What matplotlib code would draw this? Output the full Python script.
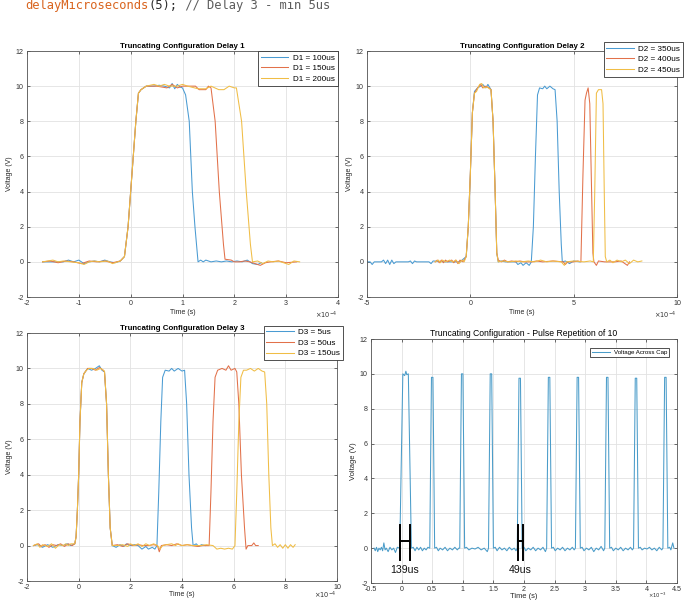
import matplotlib
matplotlib.use('Agg')
import matplotlib.pyplot as plt
from matplotlib.ticker import MultipleLocator, FuncFormatter

plt.rcParams['font.family'] = ['Liberation Sans', 'DejaVu Sans']
plt.rcParams['axes.unicode_minus'] = False

# ---------------- data (time in units of the axis multiplier) ----------------
# Delay 1 (x 1e-4 s)
d1_100 = [(-1.70,0.00),(-1.50,0.00),(-1.30,0.00),(-1.20,0.10),(-1.10,0.00),(-1.00,0.10),(-0.90,-0.10),
          (-0.80,0.00),(-0.70,0.05),(-0.60,0.00),(-0.50,0.10),(-0.40,0.00),(-0.30,-0.05),(-0.20,0.05),
          (-0.12,0.30),(-0.05,2.00),(0.00,4.00),(0.05,6.00),(0.10,8.00),(0.15,9.60),(0.20,9.80),(0.30,10.00),
          (0.45,10.00),(0.55,10.05),(0.65,10.00),(0.75,9.90),(0.80,10.15),(0.85,9.85),(0.90,10.10),(0.95,9.95),
          (1.00,9.90),(1.06,9.50),(1.13,8.00),(1.19,4.00),(1.24,2.00),(1.30,0.00),(1.35,0.10),(1.40,0.00),
          (1.45,0.10),(1.55,0.00),(1.65,0.05),(1.75,0.00),(1.85,0.05),(1.95,0.00),(2.05,0.05),(2.15,0.00),
          (2.25,0.10),(2.35,-0.10),(2.45,-0.15),(2.52,-0.05)]
d1_150 = [(-1.70,0),(-1.55,0.05),(-1.40,-0.05),(-1.25,0.05),(-1.10,0),(-0.95,-0.1),(-0.80,0.05),(-0.65,0),
          (-0.50,0.05),(-0.35,-0.05),(-0.20,0.05),(-0.12,0.3),(-0.05,2),(0,4),(0.05,6),(0.10,8),(0.15,9.6),
          (0.20,9.8),(0.30,10),(0.50,10),(0.70,9.9),(0.80,10.1),(0.90,9.9),(1.00,10),(1.10,10),(1.25,10),
          (1.32,9.8),(1.45,9.8),(1.50,10),(1.55,9.9),(1.63,8),(1.71,4),(1.79,1),(1.82,0.15),(1.94,0.1),(2.0,0),
          (2.1,0),(2.2,0.05),(2.3,0),(2.4,-0.1),(2.5,-0.2),(2.6,-0.05),(2.7,0),(2.85,0.05),(3.0,-0.05),(3.2,0)]
d1_200 = [(-1.70,0),(-1.50,0.1),(-1.40,0),(-1.30,0.05),(-1.15,0),(-1.0,-0.05),(-0.9,-0.15),(-0.8,0),
          (-0.7,0.05),(-0.6,0),(-0.45,0.05),(-0.35,-0.1),(-0.25,0),(-0.20,0.05),(-0.12,0.3),(-0.05,2),(0,4),
          (0.05,6),(0.1,8),(0.15,9.6),(0.2,9.8),(0.3,10),(0.45,10.1),(0.55,10.0),(0.65,10.1),(0.75,10.0),
          (0.9,10.0),(1.0,10.1),(1.1,10.0),(1.3,9.85),(1.45,9.85),(1.55,10),(1.70,9.8),(1.80,9.8),(1.9,10.0),
          (2.0,9.9),(2.04,9.9),(2.14,8),(2.23,4),(2.31,1),(2.35,0),(2.45,0.05),(2.55,-0.1),(2.65,0.05),
          (2.75,0),(2.85,0.05),(2.95,-0.05),(3.05,-0.15),(3.15,0.05),(3.26,0)]
d1_labels = ['D1 = 100us', 'D1 = 150us', 'D1 = 200us']

# Delay 2 (x 1e-4 s)
d2_350 = [(-5.0,0),(-4.85,0),(-4.75,-0.15),(-4.65,0),(-4.3,0),(-4.2,0.1),(-4.1,-0.1),(-4.0,0.1),(-3.9,-0.15),
          (-3.8,0.1),(-3.7,-0.1),(-3.6,0),(-3.0,0),(-2.9,0.05),(-2.8,-0.1),(-2.7,0.05),(-2.6,0),(-2.0,0),
          (-1.9,-0.1),(-1.8,0.05),(-1.2,0),(-0.5,0),(-0.2,0.3),(-0.1,2),(0,5),(0.1,8.5),(0.2,9.7),(0.35,9.9),
          (0.5,10.0),(0.6,10.1),(0.75,9.9),(0.85,10.1),(1.0,9.8),(1.1,8),(1.2,4),(1.28,0.5),(1.35,0),
          (1.5,0.05),(1.7,0),(2.0,0),(2.2,0),(2.3,-0.15),(2.45,-0.05),(2.55,-0.2),(2.7,-0.05),(2.85,-0.2),
          (2.95,0),(3.05,2),(3.15,6),(3.25,9.5),(3.35,9.9),(3.5,9.85),(3.6,10),(3.7,9.85),(3.85,10),(4.0,9.85),
          (4.1,9.8),(4.2,8),(4.3,4),(4.4,1),(4.45,0),(4.6,0.05),(4.8,-0.1),(5.0,0.05),(5.3,0)]
d2_400 = [(-1.7,0),(-1.6,0.1),(-1.5,-0.05),(-1.4,0.1),(-1.3,-0.05),(-1.2,0.1),(-1.1,0),(-0.9,0.1),
          (-0.8,-0.05),(-0.7,0.1),(-0.6,-0.1),(-0.5,0.1),(-0.35,0),(-0.2,0.3),(-0.1,2),(0,5),(0.1,8.5),
          (0.2,9.6),(0.35,9.9),(0.5,10.1),(0.6,9.9),(0.75,10.0),(0.9,9.9),(1.0,9.8),(1.1,8),(1.2,4),(1.28,0.5),
          (1.35,0.1),(1.5,0),(1.65,0.1),(1.8,0),(2.0,0.05),(2.2,0),(2.4,0.05),(2.6,0),(3.0,0),(3.2,0.05),
          (3.5,0),(4.0,0.05),(4.5,0),(4.6,-0.15),(4.7,0),(5.0,0),(5.2,0.05),(5.35,0),(5.45,5),(5.55,9.2),
          (5.62,9.6),(5.7,9.9),(5.78,9),(5.85,5),(5.93,0.5),(5.98,0),(6.1,-0.2),(6.2,0.05),(6.5,0),(7.0,0),
          (7.3,0.05),(7.6,-0.2),(7.7,0)]
d2_450 = [(-1.7,0),(-1.55,0.1),(-1.45,-0.05),(-1.35,0.1),(-1.2,0),(-1.0,0.1),(-0.85,0),(-0.7,0.1),
          (-0.55,-0.1),(-0.4,0.1),(-0.3,0),(-0.2,0.3),(-0.1,2),(0,5),(0.1,8.5),(0.2,9.6),(0.3,9.7),
          (0.45,10.1),(0.55,10.15),(0.65,9.9),(0.8,9.95),(1.0,9.8),(1.1,8),(1.2,4),(1.28,0.5),(1.35,0),
          (1.6,0.05),(1.9,0),(2.2,0.05),(2.5,0),(2.8,0.05),(3.1,0),(3.4,0.1),(3.7,0),(4.0,0.05),(4.4,0),
          (4.55,-0.2),(4.65,0),(5.0,0.05),(5.5,0),(5.8,0.05),(5.95,0),(6.02,4),(6.1,9.6),(6.2,9.8),(6.35,9.8),
          (6.42,9),(6.48,4),(6.53,0.3),(6.6,0),(6.75,0.1),(6.9,-0.05),(7.1,0.1),(7.3,0),(7.5,0.1),
          (7.7,-0.1),(7.9,0.1),(8.1,0),(8.3,0.05)]
d2_labels = ['D2 = 350us', 'D2 = 400us', 'D2 = 450us']

# Delay 3 (x 1e-4 s)
d3_5 = [(-1.75,0),(-1.6,0.05),(-1.4,-0.1),(-1.2,0.05),(-1.0,-0.1),(-0.8,0.05),(-0.6,0),(-0.45,0.1),(-0.3,0),
        (-0.15,0.1),(-0.1,0.5),(-0.05,2),(0,4),(0.05,7),(0.12,9.2),(0.2,9.7),(0.35,10),(0.5,9.9),(0.65,10),
        (0.8,10.15),(0.9,9.9),(1.0,9.8),(1.08,8),(1.15,4),(1.22,1),(1.3,0),(1.45,-0.1),(1.6,0.05),
        (1.75,-0.05),(1.85,0.1),(2.0,0),(2.15,0.05),(2.3,0),(2.45,-0.2),(2.6,-0.05),(2.7,-0.2),(2.85,-0.1),
        (2.95,-0.2),(3.03,0),(3.1,3),(3.18,7),(3.25,9.5),(3.35,9.9),(3.5,9.85),(3.6,10.0),(3.7,9.85),
        (3.85,10),(4.0,9.85),(4.1,9.9),(4.18,8),(4.27,4),(4.37,1),(4.43,0),(4.55,0.1),(4.65,-0.05),
        (4.75,0.05),(4.9,0)]
d3_50 = [(-1.75,0),(-1.55,0.1),(-1.45,-0.05),(-1.3,0.05),(-1.15,-0.1),(-1.0,0.05),(-0.85,0),(-0.7,0.1),
         (-0.55,-0.05),(-0.4,0.1),(-0.25,0),(-0.15,0.1),(-0.1,0.5),(-0.05,2),(0,4),(0.05,7),(0.12,9.2),
         (0.2,9.7),(0.35,10),(0.5,10),(0.65,9.9),(0.8,10.05),(0.95,9.9),(1.0,9.8),(1.08,8),(1.15,4),(1.22,1),
         (1.3,0),(1.5,0.05),(1.7,-0.05),(1.9,0.1),(2.1,0),(2.3,0.05),(2.5,0),(2.7,0),(2.9,0.05),(3.05,0),
         (3.12,-0.35),(3.2,0),(3.4,0.05),(3.6,0),(3.8,0.1),(4.0,0),(4.2,0.05),(4.4,0),(4.6,-0.05),(4.8,0),
         (5.05,0),(5.12,3),(5.2,7),(5.28,9.5),(5.38,9.9),(5.55,10),(5.7,9.9),(5.8,10.15),(5.9,9.9),(6.05,10),
         (6.12,9.8),(6.2,8),(6.3,4),(6.42,1),(6.48,-0.2),(6.55,0),(6.7,0),(6.78,0.15),(6.85,0),(6.95,0)]
d3_150 = [(-1.75,0),(-1.6,0.1),(-1.5,-0.1),(-1.4,0.05),(-1.2,-0.05),(-1.05,0.1),(-0.9,-0.15),(-0.75,0.05),
          (-0.6,0),(-0.5,0.1),(-0.4,0),(-0.3,0.1),(-0.15,0.1),(-0.1,0.5),(-0.05,2),(0,4),(0.05,7),(0.12,9.2),
          (0.2,9.7),(0.3,9.9),(0.4,10),(0.55,10),(0.7,9.9),(0.85,10),(1.0,9.85),(1.08,8),(1.15,4),(1.22,1),
          (1.3,0),(1.5,0),(1.7,0.05),(1.9,-0.05),(2.0,0.1),(2.15,0),(2.3,0.1),(2.45,-0.05),(2.6,0.1),(2.75,0),
          (2.9,0.1),(3.05,0),(3.15,-0.2),(3.25,0),(3.4,0.05),(3.6,0.1),(3.75,0),(3.85,0.1),(4.0,0),(4.2,0.05),
          (4.4,0),(4.7,0),(4.95,0.05),(5.2,0),(5.35,-0.2),(5.5,-0.15),(5.65,-0.2),(5.8,-0.15),(5.95,-0.2),
          (6.05,0),(6.12,3),(6.2,7),(6.28,9.5),(6.38,9.9),(6.5,9.9),(6.65,10),(6.8,9.85),(6.95,10),(7.1,9.85),
          (7.2,9.8),(7.28,8),(7.36,4),(7.44,1),(7.5,0),(7.6,0.1),(7.7,-0.1),(7.8,0.05),(7.9,-0.15),(8.0,0.05),
          (8.1,-0.15),(8.2,0.05),(8.3,-0.1),(8.38,0.05)]
d3_labels = ['D3 = 5us', 'D3 = 50us', 'D3 = 150us']

# Pulse repetition (x 1e-3 s): base start, top start, top end, base end, peak
rep_t0 = [-0.03, 0.46, 0.95, 1.42, 1.89, 2.37, 2.84, 3.32, 3.79, 4.27]
rep_t1 = [0.02, 0.488, 0.978, 1.448, 1.918, 2.398, 2.868, 3.348, 3.818, 4.298]
rep_t2 = [0.11, 0.512, 1.002, 1.472, 1.942, 2.422, 2.892, 3.372, 3.842, 4.322]
rep_t3 = [0.16, 0.54, 1.03, 1.50, 1.97, 2.45, 2.92, 3.40, 3.87, 4.35]
rep_peak = [10.0, 9.8, 10.0, 10.0, 9.75, 9.8, 9.8, 9.8, 9.75, 9.8]
rep_top_detail = [(0.05, 9.9), (0.07, 10.15), (0.085, 9.95)]
rep_baseline = [(-0.45,0),(-0.43,-0.15),(-0.41,0.05),(-0.39,-0.2),(-0.37,0),(-0.35,-0.1),(-0.33,0.05),
                (-0.31,-0.15),(-0.29,0.3),(-0.27,-0.1),(-0.25,0),(-0.22,-0.2),(-0.19,0.05),(-0.16,-0.1),
                (-0.13,0),(-0.1,-0.25),(-0.07,0.05),
                (0.19,0.05),(0.22,-0.15),(0.25,0.05),(0.28,-0.1),(0.31,0.05),(0.34,-0.15),(0.37,0),(0.40,-0.1),(0.43,0.05),
                (0.57,0.05),(0.60,-0.15),(0.63,0),(0.67,-0.1),(0.71,0.05),(0.75,-0.15),(0.79,0),(0.83,-0.1),
                (0.87,0.05),(0.91,-0.1),(0.935,0),
                (1.06,0.05),(1.10,-0.1),(1.15,0),(1.20,-0.05),(1.25,0.05),(1.30,-0.1),(1.35,0),(1.40,-0.2),
                (1.53,0.05),(1.56,-0.15),(1.60,0.05),(1.64,-0.1),(1.68,0),(1.72,-0.15),(1.76,0.05),(1.80,-0.1),
                (1.84,0),(1.87,-0.15),
                (2.00,0.05),(2.03,-0.15),(2.07,0),(2.11,-0.1),(2.15,0.05),(2.19,-0.15),(2.23,0),(2.27,-0.1),
                (2.31,0.05),(2.35,-0.2),
                (2.48,0.05),(2.51,-0.15),(2.55,0),(2.59,-0.1),(2.63,0.05),(2.67,-0.15),(2.71,0),(2.75,-0.1),
                (2.79,0.05),(2.82,-0.1),
                (2.95,0.05),(2.98,-0.15),(3.02,0),(3.06,-0.1),(3.10,0.05),(3.14,-0.2),(3.18,0),(3.22,-0.1),
                (3.26,0.1),(3.30,-0.15),
                (3.43,0.05),(3.46,-0.15),(3.50,0),(3.54,-0.1),(3.58,0.05),(3.62,-0.15),(3.66,0),(3.70,-0.1),
                (3.74,0.05),(3.77,-0.1),
                (3.90,0.05),(3.93,-0.1),(3.97,0),(4.01,-0.05),(4.05,0.05),(4.09,-0.1),(4.13,0),(4.17,-0.15),
                (4.21,0.05),(4.25,-0.1),
                (4.38,0.05),(4.40,-0.1),(4.43,0.3),(4.45,0)]
rep_label = 'Voltage Across Cap'
ann_left = [-0.03, 1.895]
ann_right = [0.14, 1.98]
ann_text = ['139us', '49us']

code_parts = [('delayMicroseconds', '#d9641e'), ('(5);', '#2b2b2b'), (' // Delay 3 - min 5us', '#5c5c5c')]

# ---------------- styling ----------------
C_BLUE, C_RED, C_YEL = '#4a9bd2', '#e2714a', '#f0bd45'
COLORS = [C_BLUE, C_RED, C_YEL]
TICK_FS = 5.1
LW = 0.75

fig = plt.figure(figsize=(6.9, 6.0), dpi=100)
W, H = 690.0, 600.0


def add_axes(px_left, px_top, px_right, px_bottom):
    return fig.add_axes([px_left / W, 1 - px_bottom / H, (px_right - px_left) / W, (px_bottom - px_top) / H])


def fmt(v, pos=None):
    return '%g' % v


def style(ax, xlim, xstep, mult, tick_fs=TICK_FS, label_fs=5.0, xlabelpad=1.2, off_x=1.0, off_y=-0.05,
          off_fs=None, off_va='top', tick_pad=2.2):
    ax.set_xlim(*xlim)
    ax.set_ylim(-2, 12)
    ax.xaxis.set_major_locator(MultipleLocator(xstep))
    ax.yaxis.set_major_locator(MultipleLocator(2))
    ax.xaxis.set_major_formatter(FuncFormatter(fmt))
    ax.yaxis.set_major_formatter(FuncFormatter(fmt))
    ax.grid(True, color='#e2e2e2', lw=0.6)
    ax.set_axisbelow(True)
    ax.tick_params(direction='in', top=True, right=True, length=2.5, width=0.5,
                   labelsize=tick_fs, colors='#333333', pad=tick_pad)
    for s in ax.spines.values():
        s.set_color('#555555')
        s.set_linewidth(0.6)
    ax.set_xlabel('Time (s)', fontsize=label_fs, labelpad=xlabelpad, color='#262626')
    ax.set_ylabel('Voltage (V)', fontsize=label_fs, labelpad=2, color='#262626')
    ax.text(off_x, off_y, r'$\times10^{%d}$' % mult, transform=ax.transAxes, ha='right', va=off_va,
            fontsize=off_fs if off_fs else tick_fs - 0.3, color='#333333')


def plot_series(ax, series, labels):
    for s, c, lab in zip(series, COLORS, labels):
        ax.plot([p[0] for p in s], [p[1] for p in s], color=c, lw=LW, label=lab)


def legend(ax, anchor, fs=5.9, hl=3.3):
    lg = ax.legend(loc='upper right', bbox_to_anchor=anchor, fontsize=fs, handlelength=hl,
                   frameon=True, fancybox=False, edgecolor='#333333', framealpha=1,
                   borderpad=0.35, labelspacing=0.35, handletextpad=0.6, borderaxespad=0)
    lg.get_frame().set_linewidth(0.6)
    return lg


# Panel 1
ax1 = add_axes(27, 51, 338, 297)
plot_series(ax1, [d1_100, d1_150, d1_200], d1_labels)
style(ax1, (-2, 4), 1, -4)
ax1.set_title('Truncating Configuration Delay 1', fontsize=5.7, fontweight='bold', pad=2.5)
legend(ax1, (1.0, 1.0))

# Panel 2
ax2 = add_axes(367, 51, 677, 297)
plot_series(ax2, [d2_350, d2_400, d2_450], d2_labels)
style(ax2, (-5, 10), 5, -4)
ax2.set_title('Truncating Configuration Delay 2', fontsize=5.7, fontweight='bold', pad=2.5)
legend(ax2, (1.02, 1.037))

# Panel 3
ax3 = add_axes(27, 333, 337, 581)
plot_series(ax3, [d3_5, d3_50, d3_150], d3_labels)
style(ax3, (-2, 10), 2, -4, xlabelpad=0.3, off_y=-0.035)
ax3.set_title('Truncating Configuration Delay 3', fontsize=5.7, fontweight='bold', pad=2.5)
legend(ax3, (1.02, 1.03))

# Panel 4
ax4 = add_axes(371, 339, 677, 583)
pts = list(rep_baseline) + list(rep_top_detail)
for a, b, c, d, pk in zip(rep_t0, rep_t1, rep_t2, rep_t3, rep_peak):
    pts += [(a, 0.0), (b, pk), (c, pk), (d, 0.0)]
pts.sort(key=lambda p: p[0])
ax4.plot([p[0] for p in pts], [p[1] for p in pts], color='#4a9cc9', lw=LW, label=rep_label)
style(ax4, (-0.5, 4.5), 0.5, -3, tick_fs=5.1, label_fs=5.4, xlabelpad=0.0,
      off_x=(666.0 - 371.0) / 306.0, off_y=-(599.5 - 583) / 244.0, off_fs=3.8, off_va='bottom', tick_pad=2.2)
ax4.set_title('Truncating Configuration - Pulse Repetition of 10', fontsize=6.2, pad=2.5)
legend(ax4, (0.975, 0.965), fs=4.4, hl=3.0)
for xl, xr, txt in zip(ann_left, ann_right, ann_text):
    ax4.plot([xl, xl], [-0.7, 1.3], color='black', lw=1.4)
    ax4.plot([xr, xr], [-0.7, 1.3], color='black', lw=1.4)
    ax4.plot([xl, xr], [0.4, 0.4], color='black', lw=1.4)
    ax4.text((xl + xr) / 2, -0.95, txt, ha='center', va='top', fontsize=7.6, color='#111111')

# Code line at top
fs_code = 8.7
cw = 0.6021 * fs_code * 100 / 72.0
x = 25.0
for txt, col in code_parts:
    fig.text(x / W, 1 - 8.7 / H, txt, fontsize=fs_code, family='DejaVu Sans Mono', color=col,
             ha='left', va='baseline')
    x += len(txt) * cw

fig.savefig('out.png', dpi=100)
